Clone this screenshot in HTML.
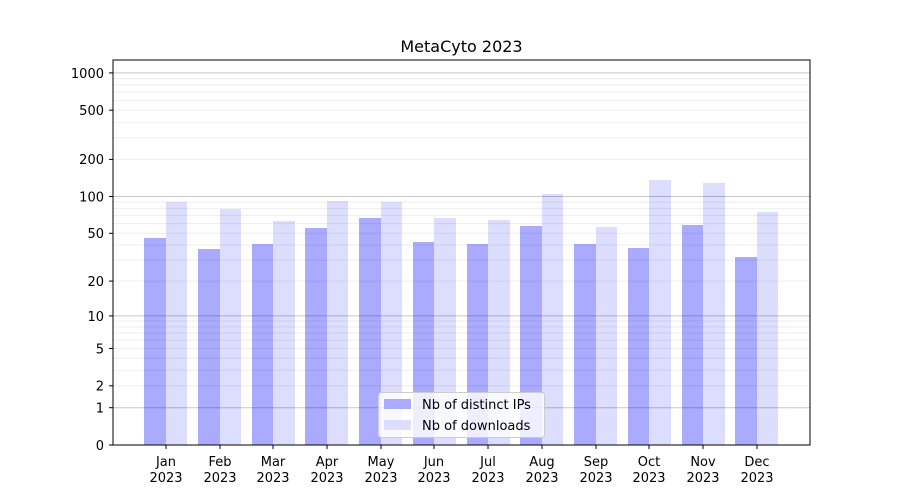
<!DOCTYPE html>
<html><head><meta charset="utf-8"><style>body{margin:0;background:#fff}svg{display:block;font-family:"DejaVu Sans","Liberation Sans",sans-serif}</style></head><body>
<svg width="900" height="500" viewBox="0 0 900 500" xmlns="http://www.w3.org/2000/svg">
<rect width="900" height="500" fill="#fff"/>
<text x="461.5" y="52" font-size="16" text-anchor="middle" fill="#000">MetaCyto 2023</text>
<g fill="#aaaaff">
<rect x="144" y="238" width="22" height="207"/>
<rect x="198" y="249" width="22" height="196"/>
<rect x="252" y="244" width="21" height="201"/>
<rect x="305" y="228" width="22" height="217"/>
<rect x="359" y="218" width="22" height="227"/>
<rect x="413" y="242" width="21" height="203"/>
<rect x="467" y="244" width="21" height="201"/>
<rect x="520" y="226" width="22" height="219"/>
<rect x="574" y="244" width="22" height="201"/>
<rect x="628" y="248" width="21" height="197"/>
<rect x="682" y="225" width="21" height="220"/>
<rect x="735" y="257" width="22" height="188"/>
</g>
<g fill="#ddddff">
<rect x="166" y="202" width="21" height="243"/>
<rect x="220" y="209" width="21" height="236"/>
<rect x="273" y="221" width="22" height="224"/>
<rect x="327" y="201" width="21" height="244"/>
<rect x="381" y="202" width="21" height="243"/>
<rect x="434" y="218" width="22" height="227"/>
<rect x="488" y="220" width="22" height="225"/>
<rect x="542" y="194" width="21" height="251"/>
<rect x="596" y="227" width="21" height="218"/>
<rect x="649" y="180" width="22" height="265"/>
<rect x="703" y="183" width="22" height="262"/>
<rect x="757" y="212" width="21" height="233"/>
</g>
<g stroke="#000" stroke-opacity="0.07" stroke-width="1">
<line x1="113" x2="810" y1="385.8" y2="385.8"/><line x1="113" x2="810" y1="370.3" y2="370.3"/><line x1="113" x2="810" y1="358.3" y2="358.3"/><line x1="113" x2="810" y1="348.5" y2="348.5"/><line x1="113" x2="810" y1="340.2" y2="340.2"/><line x1="113" x2="810" y1="333" y2="333"/><line x1="113" x2="810" y1="326.7" y2="326.7"/><line x1="113" x2="810" y1="321" y2="321"/>
<line x1="113" x2="810" y1="281.1" y2="281.1"/><line x1="113" x2="810" y1="260.1" y2="260.1"/><line x1="113" x2="810" y1="245" y2="245"/><line x1="113" x2="810" y1="233.3" y2="233.3"/><line x1="113" x2="810" y1="223.6" y2="223.6"/><line x1="113" x2="810" y1="215.4" y2="215.4"/><line x1="113" x2="810" y1="208.4" y2="208.4"/><line x1="113" x2="810" y1="202.1" y2="202.1"/>
<line x1="113" x2="810" y1="159.4" y2="159.4"/><line x1="113" x2="810" y1="137.7" y2="137.7"/><line x1="113" x2="810" y1="122.2" y2="122.2"/><line x1="113" x2="810" y1="110.2" y2="110.2"/><line x1="113" x2="810" y1="100.4" y2="100.4"/><line x1="113" x2="810" y1="92.1" y2="92.1"/><line x1="113" x2="810" y1="84.9" y2="84.9"/><line x1="113" x2="810" y1="78.6" y2="78.6"/>
</g>
<g stroke="#000" stroke-opacity="0.22" stroke-width="1">
<line x1="113" x2="810" y1="407.7" y2="407.7"/><line x1="113" x2="810" y1="315.9" y2="315.9"/><line x1="113" x2="810" y1="196.5" y2="196.5"/><line x1="113" x2="810" y1="72.9" y2="72.9"/>
</g>
<rect x="113" y="60" width="697" height="385" fill="none" stroke="#000" stroke-width="1"/>
<g stroke="#000" stroke-width="1">
<line x1="109" x2="113" y1="445" y2="445"/><line x1="109" x2="113" y1="407.7" y2="407.7"/><line x1="109" x2="113" y1="385.8" y2="385.8"/><line x1="109" x2="113" y1="348.5" y2="348.5"/><line x1="109" x2="113" y1="315.9" y2="315.9"/><line x1="109" x2="113" y1="281.1" y2="281.1"/><line x1="109" x2="113" y1="233.3" y2="233.3"/><line x1="109" x2="113" y1="196.5" y2="196.5"/><line x1="109" x2="113" y1="159.4" y2="159.4"/><line x1="109" x2="113" y1="110.2" y2="110.2"/><line x1="109" x2="113" y1="72.9" y2="72.9"/>
<line x1="166" x2="166" y1="445" y2="449"/><line x1="220" x2="220" y1="445" y2="449"/><line x1="273" x2="273" y1="445" y2="449"/><line x1="327" x2="327" y1="445" y2="449"/><line x1="381" x2="381" y1="445" y2="449"/><line x1="434" x2="434" y1="445" y2="449"/><line x1="488" x2="488" y1="445" y2="449"/><line x1="542" x2="542" y1="445" y2="449"/><line x1="596" x2="596" y1="445" y2="449"/><line x1="649" x2="649" y1="445" y2="449"/><line x1="703" x2="703" y1="445" y2="449"/><line x1="757" x2="757" y1="445" y2="449"/>
</g>
<g font-size="13" text-anchor="end" fill="#000">
<text x="104" y="450">0</text><text x="104" y="412.5">1</text><text x="104" y="390.5">2</text><text x="104" y="353.5">5</text><text x="104" y="321">10</text><text x="104" y="286">20</text><text x="104" y="238">50</text><text x="104" y="201.5">100</text><text x="104" y="164">200</text><text x="104" y="115">500</text><text x="104" y="78">1000</text>
</g>
<g font-size="13" text-anchor="middle" fill="#000">
<text x="166" y="466">Jan</text><text x="166" y="482">2023</text>
<text x="220" y="466">Feb</text><text x="220" y="482">2023</text>
<text x="273" y="466">Mar</text><text x="273" y="482">2023</text>
<text x="327" y="466">Apr</text><text x="327" y="482">2023</text>
<text x="381" y="466">May</text><text x="381" y="482">2023</text>
<text x="434" y="466">Jun</text><text x="434" y="482">2023</text>
<text x="488" y="466">Jul</text><text x="488" y="482">2023</text>
<text x="542" y="466">Aug</text><text x="542" y="482">2023</text>
<text x="596" y="466">Sep</text><text x="596" y="482">2023</text>
<text x="649" y="466">Oct</text><text x="649" y="482">2023</text>
<text x="703" y="466">Nov</text><text x="703" y="482">2023</text>
<text x="757" y="466">Dec</text><text x="757" y="482">2023</text>
</g>
<rect x="378.5" y="392.5" width="166" height="45" rx="3" fill="#fff" fill-opacity="0.8" stroke="#ccc"/>
<rect x="384" y="399" width="27" height="10" fill="#aaaaff"/>
<rect x="384" y="420" width="27" height="10" fill="#ddddff"/>
<g font-size="13" fill="#000">
<text x="422" y="409">Nb of distinct IPs</text>
<text x="422" y="430">Nb of downloads</text>
</g>
</svg>
</body></html>
